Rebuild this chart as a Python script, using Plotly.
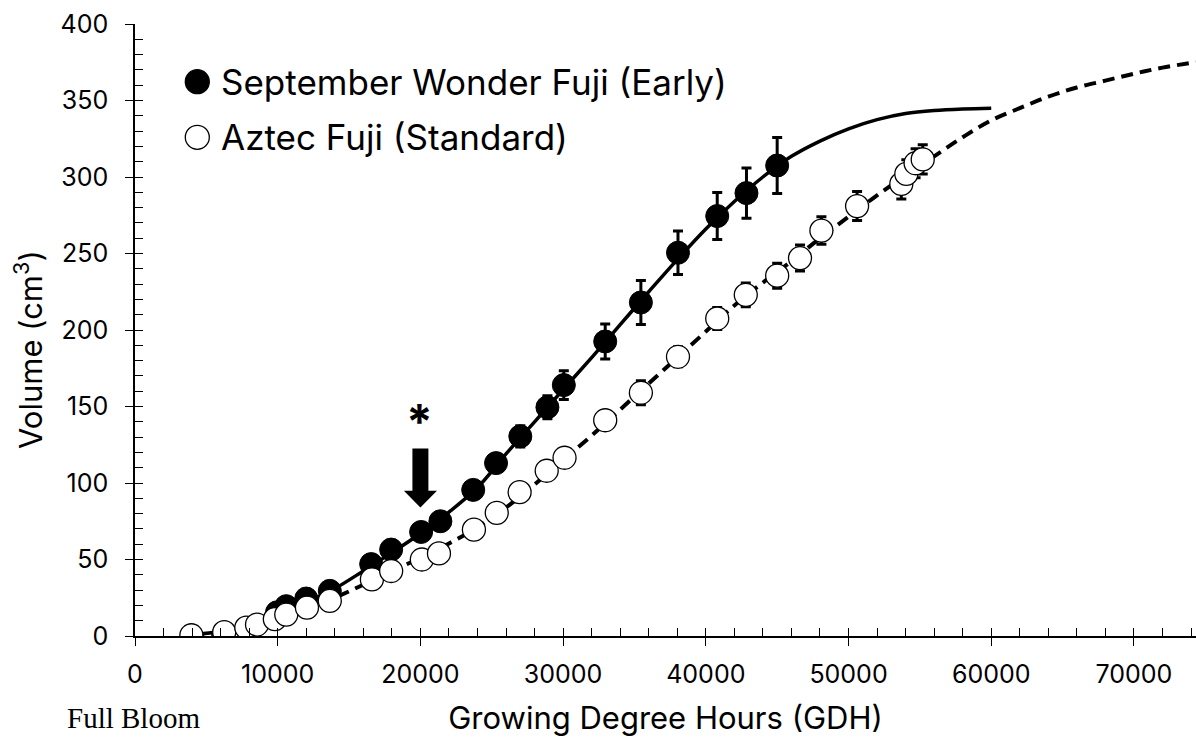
import plotly.graph_objects as go

# ---------------- data ----------------
early_gdh = [9950, 10600, 12000, 13650, 16550, 17950, 20050, 21400, 23700, 25300,
             27000, 28900, 30050, 32950, 35450, 38050, 40800, 42850, 45000]
early_vol = [15.5, 19.5, 24.5, 29.5, 47, 56.5, 68, 75, 95.5, 113,
             130.5, 149.5, 164, 192.5, 218, 250.5, 274.5, 289.5, 307.5]
early_err = [2, 2, 3, 3, 4, 4, 4, 4, 5, 5, 7, 7.5, 9.4, 11.5, 14.4, 14.2, 15.3, 16.4, 18.3]

aztec_gdh = [3950, 6250, 7800, 8550, 9800, 10600, 12050, 13650, 16600, 17950,
             20100, 21300, 23750, 25350, 26950, 28850, 30100, 32950, 35450, 38050,
             40800, 42800, 45000, 46600, 48100, 50600, 53700, 54050, 54700, 55200]
aztec_vol = [0.5, 2.5, 5.5, 7.5, 11, 14, 18.5, 23, 37, 42.5,
             50, 54, 69.5, 80.5, 94, 108, 116.5, 141, 159, 182.5,
             207.5, 223, 235.5, 247, 265, 281, 295.5, 302, 309, 311.5]
aztec_err = [1, 1, 1, 1, 1.5, 1.5, 2, 2, 3, 3, 3, 3, 4, 4, 4.5, 5, 5, 6, 7.8, 6.5,
             7.2, 7.8, 8.2, 8.5, 9, 9.5, 9.8, 9.2, 9.5, 9.6]

early_fit_gdh = [4000, 6000, 8000, 10000, 12000, 14000, 16000, 18000, 20000, 22000,
                 24000, 26000, 28000, 30000, 32000, 34000, 36000, 38000, 40000, 42000,
                 44000, 46000, 48000, 50000, 52000, 54000, 56000, 58000, 60000]
early_fit_vol = [1, 3, 7, 14, 22, 31, 42.5, 54.5, 67, 81,
                 97, 119, 140, 161, 182, 203.5, 225, 246, 266, 284,
                 300, 313.5, 323.5, 331.5, 337.5, 341.5, 343.5, 344.5, 345]

aztec_fit_gdh = [4000, 6000, 8000, 10000, 12000, 14000, 16000, 18000, 20000, 22000,
                 24000, 26000, 28000, 30000, 32000, 34000, 36000, 38000, 40000, 42000,
                 44000, 46000, 48000, 50000, 52000, 54000, 56000, 58000, 60000, 62000,
                 64000, 66000, 68000, 70000, 72000, 74350]
aztec_fit_vol = [0.5, 2, 5, 10, 17, 25, 33.5, 42.5, 51, 60.5,
                 71, 84, 99, 115, 131, 148, 165, 182, 199, 216,
                 231, 245, 260, 274, 288, 301, 313.5, 326, 337, 345,
                 352.5, 358.5, 363, 367.5, 371.5, 375]

series_names = ["September Wonder Fuji (Early)", "Aztec Fuji (Standard)"]
x_title = "Growing Degree Hours (GDH)"
y_title = "Volume (cm<sup>3</sup>)"
x_note = "Full Bloom"

X_RANGE = [0, 74350]
Y_RANGE = [0, 400]

# ---------------- layout geometry (pixels) ----------------
W, H = 1196, 742
ML, MR, MT, MB = 135, 0, 24, 106
PW, PH = W - ML - MR, H - MT - MB

def px_x(px):
    return (px - ML) / PW

def px_y(py):
    return (H - MB - py) / PH

FONT = "Inter"

fig = go.Figure()

# fitted curves
fig.add_trace(go.Scatter(x=early_fit_gdh, y=early_fit_vol, mode="lines",
                         line=dict(color="black", width=3.5, shape="spline"),
                         showlegend=False, hoverinfo="skip"))
fig.add_trace(go.Scatter(x=aztec_fit_gdh, y=aztec_fit_vol, mode="lines",
                         line=dict(color="black", width=4, dash="12px,7px", shape="spline"),
                         showlegend=False, hoverinfo="skip"))

# data points
fig.add_trace(go.Scatter(x=early_gdh, y=early_vol, mode="markers", name=series_names[0],
                         marker=dict(size=23, color="black", line=dict(color="black", width=1)),
                         error_y=dict(type="data", array=early_err, visible=True,
                                      color="black", thickness=3, width=5),
                         showlegend=False))
fig.add_trace(go.Scatter(x=aztec_gdh, y=aztec_vol, mode="markers", name=series_names[1],
                         marker=dict(size=23, color="white", line=dict(color="black", width=1.3)),
                         error_y=dict(type="data", array=aztec_err, visible=True,
                                      color="black", thickness=3, width=5),
                         showlegend=False))

# invisible trace on overlay axes (for crossing/inside minor ticks)
fig.add_trace(go.Scatter(x=[X_RANGE[0]], y=[Y_RANGE[0]], xaxis="x2", yaxis="y2",
                         mode="markers", marker=dict(opacity=0), showlegend=False,
                         hoverinfo="skip"))

tickfont = dict(family=FONT, size=25, color="black")

fig.update_layout(
    width=W, height=H,
    margin=dict(l=ML, r=MR, t=MT, b=MB),
    paper_bgcolor="white", plot_bgcolor="white",
    xaxis=dict(range=X_RANGE, showgrid=False, zeroline=False, showline=True,
               linecolor="black", linewidth=1.5, ticks="outside", ticklen=8,
               tickwidth=1.3, tickcolor="black", dtick=10000, tick0=0,
               tickformat="d",
               tickfont=tickfont, ticklabelstandoff=7,
               title=dict(text=x_title, font=dict(family=FONT, size=31, color="black"),
                          standoff=20)),
    yaxis=dict(range=Y_RANGE, showgrid=False, zeroline=False, showline=True,
               linecolor="black", linewidth=1.5, ticks="outside", ticklen=8,
               tickwidth=1.3, tickcolor="black", dtick=50, tick0=0,
               tickfont=tickfont, ticklabelstandoff=12),
    xaxis2=dict(overlaying="x", matches="x", range=X_RANGE, showgrid=False,
                zeroline=False, showline=False, showticklabels=False,
                ticks="inside", ticklen=8, tickwidth=1.3, tickcolor="black",
                dtick=2000, tick0=0, side="bottom", anchor="y2"),
    yaxis2=dict(overlaying="y", matches="y", range=Y_RANGE, showgrid=False,
                zeroline=False, showline=False, showticklabels=False,
                ticks="inside", ticklen=8, tickwidth=1.3, tickcolor="black",
                dtick=10, tick0=0, side="left", anchor="x2"),
    showlegend=False,
)

# y-axis title (placed to match the reference position)
fig.add_annotation(x=px_x(28), y=px_y(350), xref="paper", yref="paper",
                   xanchor="center", yanchor="middle", textangle=-90,
                   text=y_title, showarrow=False,
                   font=dict(family=FONT, size=31, color="black"))

# arrow marking 20000 GDH
AX = 20000
shaft_hw, head_hw = 560, 1160
shaft_top, head_base, tip = 122.5, 95, 84
arrow_path = (f"M {AX-shaft_hw},{shaft_top} L {AX+shaft_hw},{shaft_top} "
              f"L {AX+shaft_hw},{head_base} L {AX+head_hw},{head_base} "
              f"L {AX},{tip} L {AX-head_hw},{head_base} L {AX-shaft_hw},{head_base} Z")
fig.add_shape(type="path", path=arrow_path, xref="x", yref="y",
              fillcolor="black", line=dict(color="black", width=0))
fig.add_annotation(x=AX - 50, y=145.5, xref="x", yref="y", text="<b>*</b>",
                   showarrow=False, font=dict(family=FONT, size=48, color="black"),
                   yshift=-8)

# legend (manual)
leg_cx, leg_r = 197.3, 12
for cy, fill, name in [(81.7, "black", series_names[0]), (137.3, "white", series_names[1])]:
    fig.add_shape(type="circle", xref="paper", yref="paper",
                  x0=px_x(leg_cx - leg_r), x1=px_x(leg_cx + leg_r),
                  y0=px_y(cy + leg_r), y1=px_y(cy - leg_r),
                  fillcolor=fill, line=dict(color="black", width=1.3))
    fig.add_annotation(x=px_x(219), y=px_y(cy), xref="paper", yref="paper",
                       xanchor="left", yanchor="middle", text=name, showarrow=False,
                       font=dict(family=FONT, size=35, color="black"))

# "Full Bloom" note under x=0
fig.add_annotation(x=px_x(133), y=px_y(718), xref="paper", yref="paper",
                   xanchor="center", yanchor="middle", text=x_note, showarrow=False,
                   font=dict(family="Liberation Serif", size=29, color="black"))

fig.write_html("out.html")
